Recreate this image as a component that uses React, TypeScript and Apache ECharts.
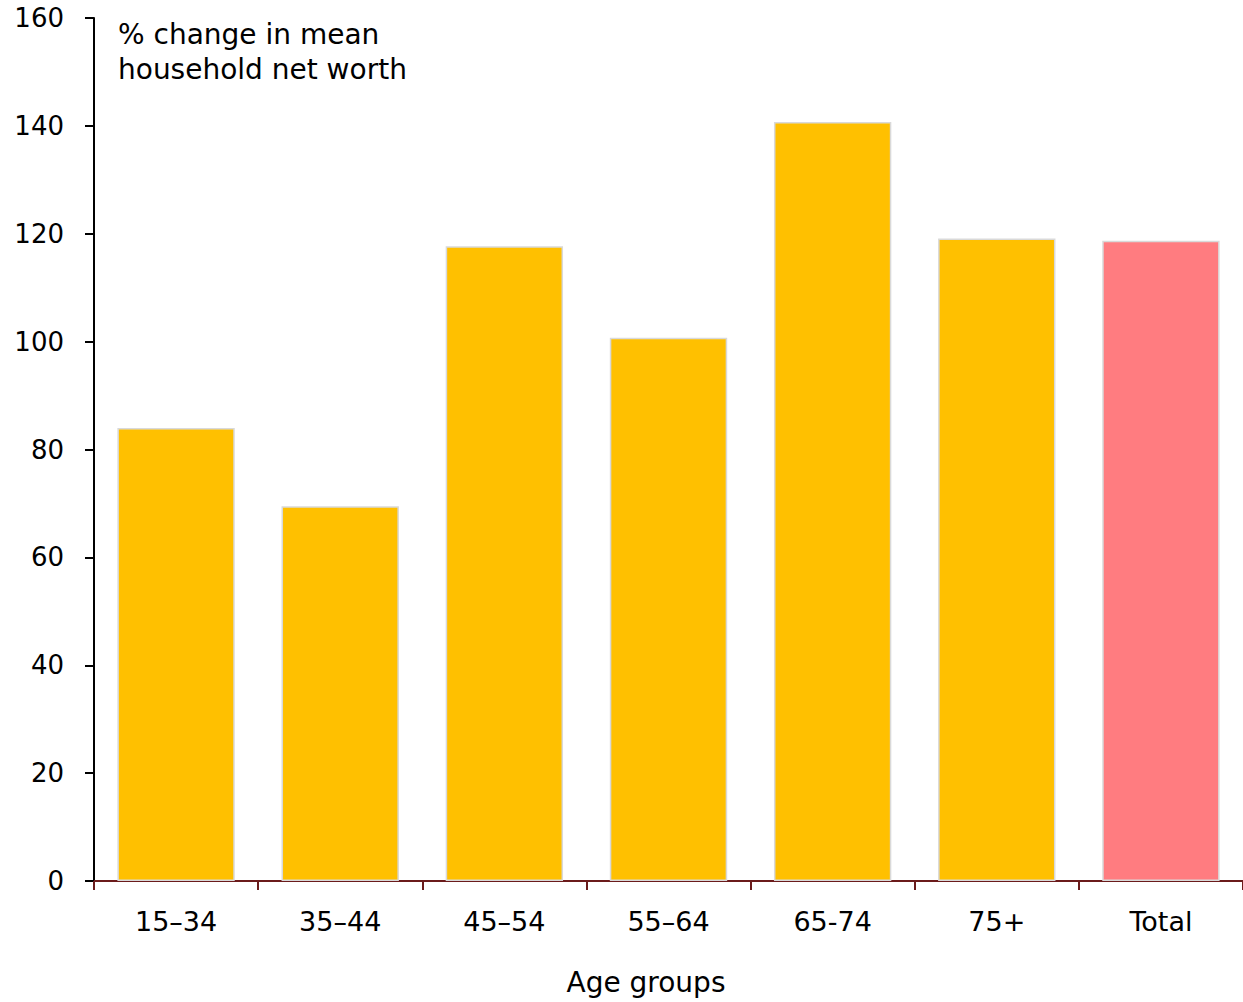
import React, { useEffect, useRef } from "react";
import * as echarts from "echarts";

const categories = ["15–34", "35–44", "45–54", "55–64", "65-74", "75+", "Total"];
const changeValues = [84, 69.5, 117.7, 100.7, 140.7, 119.1, 118.7];
const barColors = ["#FFC000", "#FFC000", "#FFC000", "#FFC000", "#FFC000", "#FFC000", "#FF7C80"];
const yTicks = { min: 0, max: 160, interval: 20 };

const FONT = "'DejaVu Sans', sans-serif";

export default function App() {
  const ref = useRef<HTMLDivElement>(null);

  useEffect(() => {
    if (!ref.current) return;
    const chart = echarts.init(ref.current, undefined, { renderer: "svg" });
    chart.setOption({
      animation: false,
      backgroundColor: "#ffffff",
      grid: { left: 94, right: 0, top: 18, bottom: 121, containLabel: false },
      graphic: [
        {
          type: "text",
          left: 118,
          top: 17,
          style: {
            text: "% change in mean\nhousehold net worth",
            font: `28px ${FONT}`,
            fill: "#000",
            lineHeight: 35,
          },
        },
        {
          type: "text",
          x: 646,
          y: 982,
          style: {
            text: "Age groups",
            font: `28px ${FONT}`,
            fill: "#000",
            align: "center",
            verticalAlign: "middle",
          },
        },
      ],
      xAxis: {
        type: "category",
        data: categories,
        axisLine: { lineStyle: { color: "#6B1B1B", width: 2 } },
        axisTick: { show: true, alignWithLabel: false, length: 9, lineStyle: { color: "#6B1B1B", width: 2 } },
        axisLabel: { fontFamily: FONT, fontSize: 27, color: "#000", margin: 27 },
      },
      yAxis: {
        type: "value",
        min: yTicks.min,
        max: yTicks.max,
        interval: yTicks.interval,
        splitLine: { show: false },
        axisLine: { show: true, lineStyle: { color: "#000", width: 2 } },
        axisTick: { show: true, length: 9, lineStyle: { color: "#000", width: 2 } },
        axisLabel: { fontFamily: FONT, fontSize: 26, color: "#000", margin: 30 },
      },
      series: [
        {
          type: "bar",
          barCategoryGap: "28.5%",
          data: changeValues.map((v, i) => ({
            value: v,
            itemStyle: { color: barColors[i], borderColor: "#D9D9D9", borderWidth: 1.5 },
          })),
        },
      ],
    });
    return () => chart.dispose();
  }, []);

  return (
    <div
      ref={ref}
      style={{ position: "fixed", left: 0, top: 0, width: 1243, height: 1002, background: "#fff" }}
    />
  );
}
